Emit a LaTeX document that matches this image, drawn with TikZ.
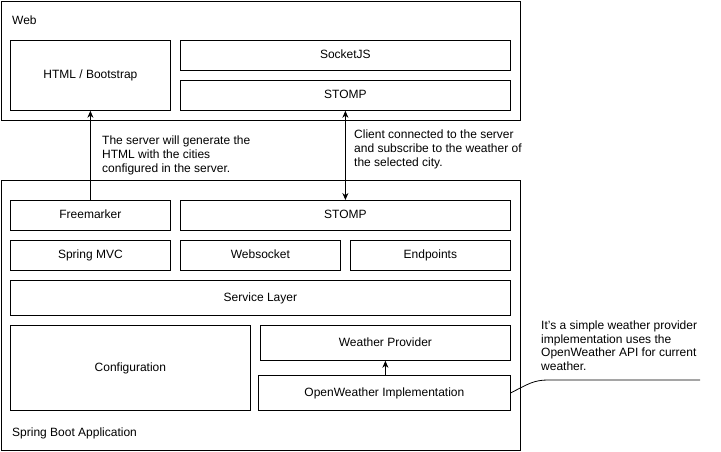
\documentclass[tikz,border=0pt]{standalone}
\usepackage{fontspec}
\setmainfont{Liberation Sans}
\usetikzlibrary{arrows.meta,positioning,calc}

\begin{document}
\begin{tikzpicture}[x=1pt, y=-1pt,
    font=\fontsize{12}{14}\selectfont,
    box/.style={rectangle, draw=black, line width=0.8pt, inner sep=0pt, anchor=north west, text centered, text height=8.4pt, text depth=2.2pt},
    caption/.style={anchor=base west, inner sep=0pt},
    note/.style={align=left, anchor=north west, inner sep=0pt},
    arrow/.style={-{Stealth[length=7pt,width=6pt]}, line width=0.8pt}
]
    \useasboundingbox (0,0) rectangle (721,452);

    % web side
    \node[box, minimum width=519, minimum height=119] (web) at (1,1) {};
    \node[caption] (weblbl) at (12,25) {Web};
    \node[box, minimum width=160, minimum height=70] (html) at (10,40) {HTML / Bootstrap};
    \node[box, minimum width=330, minimum height=30] (sockjs) at (180,40) {SocketJS};
    \node[box, minimum width=330, minimum height=30] (stompw) at (180,80) {STOMP};

    % spring boot side
    \node[box, minimum width=519, minimum height=270] (boot) at (1,180) {};
    \node[caption] (bootlbl) at (12,436) {Spring Boot Application};
    \node[box, minimum width=160, minimum height=30] (fm) at (10,200) {Freemarker};
    \node[box, minimum width=330, minimum height=30] (stomps) at (180,200) {STOMP};
    \node[box, minimum width=160, minimum height=30] (mvc) at (10,240) {Spring MVC};
    \node[box, minimum width=160, minimum height=30] (ws) at (180,240) {Websocket};
    \node[box, minimum width=160, minimum height=30] (endp) at (350,240) {Endpoints};
    \node[box, minimum width=500, minimum height=35] (svc) at (10,280) {Service Layer};
    \node[box, minimum width=240, minimum height=85] (conf) at (10,325) {Configuration};
    \node[box, minimum width=250, minimum height=35] (wprov) at (260,325) {Weather Provider};
    \node[box, minimum width=252, minimum height=35] (oimpl) at (258,375) {OpenWeather Implementation};

    % notes
    \node[note] (note1) at (102,135.5) {The server will generate the\\HTML with the cities\\configured in the server.};
    \node[note] (note2) at (354,130) {Client connected to the server\\and subscribe to the weather of\\the selected city.};
    \node[note, font=\fontsize{12}{13.5}\selectfont] (note3) at (541,321) {It's a simple weather provider\\implementation uses the\\OpenWeather API for current\\weather.};
    \coordinate (nleft) at (548,380);
    \coordinate (nright) at (700,380);

    \draw[arrow] (fm.north) -- (html.south);
    \draw[arrow, {Stealth[length=7pt,width=6pt]}-{Stealth[length=7pt,width=6pt]}] (stomps.north) -- (stompw.south);
    \draw[arrow] (oimpl.north -| wprov.south) -- (wprov.south);
    \draw[line width=0.8pt] (oimpl.east) .. controls (528,384) and (534,380) .. (nleft) -- (nright);
\end{tikzpicture}
\end{document}
